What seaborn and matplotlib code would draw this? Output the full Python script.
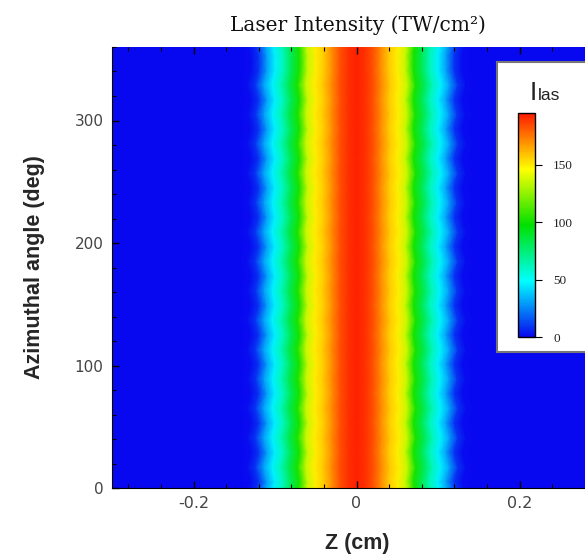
import numpy as np
import matplotlib
matplotlib.use("Agg")
import matplotlib.pyplot as plt
import seaborn as sns
from matplotlib.colors import LinearSegmentedColormap
from matplotlib.ticker import MultipleLocator

# ---- data ----
z_cm = [-0.30, -0.20, -0.15, -0.14, -0.13, -0.12, -0.11, -0.10, -0.09, -0.08,
        -0.07, -0.06, -0.05, -0.04, -0.03, -0.02, -0.01, 0.00, 0.01, 0.02,
        0.03, 0.04, 0.05, 0.06, 0.07, 0.08, 0.09, 0.10, 0.11, 0.12,
        0.13, 0.14, 0.15, 0.20, 0.30]
intensity = [0, 0, 0, 0, 1, 9, 30, 46, 62, 82,
             102, 135, 150, 157, 170, 183, 190, 193, 190, 183,
             170, 157, 150, 135, 102, 82, 62, 46, 30, 9,
             1, 0, 0, 0, 0]
theta_deg = [0, 5, 17, 29, 41, 53, 65, 77, 89, 101, 113, 125, 137, 149, 161, 173,
             185, 197, 209, 221, 233, 245, 257, 269, 281, 293, 305, 317, 329, 341,
             353, 360]
width_factor = [1.015, 1.00, 1.036, 1.00, 1.036, 1.00, 1.036, 1.00, 1.03, 1.00,
                1.036, 1.00, 1.036, 1.00, 1.03, 1.00, 1.036, 1.00, 1.036, 1.00,
                1.03, 1.00, 1.036, 1.00, 1.036, 1.00, 1.03, 1.00, 1.036, 1.00,
                1.00, 1.015]
cbar_ticks = [0, 50, 100, 150]
x_ticks = [-0.2, 0.0, 0.2]
x_ticklabels = ["-0.2", "0", "0.2"]
y_ticks = [0, 100, 200, 300]
y_ticklabels = ["0", "100", "200", "300"]

sns.set_style("ticks")
plt.rcParams["axes.unicode_minus"] = False

cmap = LinearSegmentedColormap.from_list(
    "rainbow5",
    [(0.0, "#0808f0"), (0.25, "#00ffff"), (0.5, "#00e000"),
     (0.75, "#ffff00"), (1.0, "#ff1a00")])

W, H = 585, 556
fig = plt.figure(figsize=(W / 100, H / 100), dpi=100)
fig.patch.set_facecolor("white")

ax = fig.add_axes([112 / W, (H - 488) / H, 489 / W, 441 / H])
ax.set_axisbelow(False)

Z = np.outer(np.array(width_factor), np.array(z_cm))
T = np.repeat(np.array(theta_deg, dtype=float)[:, None], len(z_cm), axis=1)
C = np.repeat(np.array(intensity, dtype=float)[None, :], len(theta_deg), axis=0)
mesh = ax.pcolormesh(Z, T, C, shading="gouraud", cmap=cmap, vmin=0, vmax=195)

ax.set_xlim(-0.30, 0.30)
ax.set_ylim(0, 360)
ax.set_xticks(x_ticks)
ax.set_xticklabels(x_ticklabels)
ax.set_yticks(y_ticks)
ax.set_yticklabels(y_ticklabels)
ax.xaxis.set_minor_locator(MultipleLocator(0.04))
ax.yaxis.set_minor_locator(MultipleLocator(20))
ax.tick_params(which="both", direction="in", top=True, right=True, color="black")
ax.tick_params(which="major", length=5, width=1.0)
ax.tick_params(which="minor", length=3, width=0.8)
ax.tick_params(axis="x", which="major", pad=6, labelsize=11.5, labelcolor="#444444")
ax.tick_params(axis="y", which="major", pad=6, labelsize=11, labelcolor="#444444")
for lab in ax.get_xticklabels() + ax.get_yticklabels():
    lab.set_family("DejaVu Sans")
for s in ax.spines.values():
    s.set_color("black")
    s.set_linewidth(0.8)
ax.spines["top"].set_visible(False)

fig.text(358 / W, 1 - 25 / H, "Laser Intensity (TW/cm\u00b2)",
         ha="center", va="center", fontsize=14.5, family="DejaVu Serif",
         color="#111111")
fig.text(357.5 / W, 1 - 544 / H, "Z (cm)", ha="center", va="center",
         fontsize=15.5, fontweight="bold", family="Liberation Sans")
fig.text(35 / W, 1 - 267 / H, "Azimuthal angle (deg)", ha="center", va="center",
         rotation=90, fontsize=15.5, fontweight="bold", family="Liberation Sans")

# legend box
box = fig.add_axes([497 / W, (H - 352) / H, 120 / W, 290 / H])
box.set_facecolor("white")
box.set_xticks([])
box.set_yticks([])
for s in box.spines.values():
    s.set_color("#777777")
    s.set_linewidth(1.5)

cax = fig.add_axes([518 / W, (H - 337) / H, 17 / W, 224 / H])
cb = fig.colorbar(mesh, cax=cax, ticks=cbar_ticks)
cb.outline.set_edgecolor("black")
cb.outline.set_linewidth(1.0)
cax.tick_params(direction="out", length=5, width=0.8, pad=8, labelsize=9.5,
                color="black", labelcolor="#222222")
for lab in cax.get_yticklabels():
    lab.set_family("Liberation Serif")
cax.minorticks_off()

fig.text(530 / W, 1 - 100 / H, "I", ha="left", va="baseline", fontsize=19,
         family="Liberation Sans", color="#222222")
fig.text(538 / W, 1 - 100 / H, "las", ha="left", va="baseline", fontsize=12.5,
         family="Liberation Sans", color="#222222")

fig.savefig("out.png", dpi=100, facecolor="white")
